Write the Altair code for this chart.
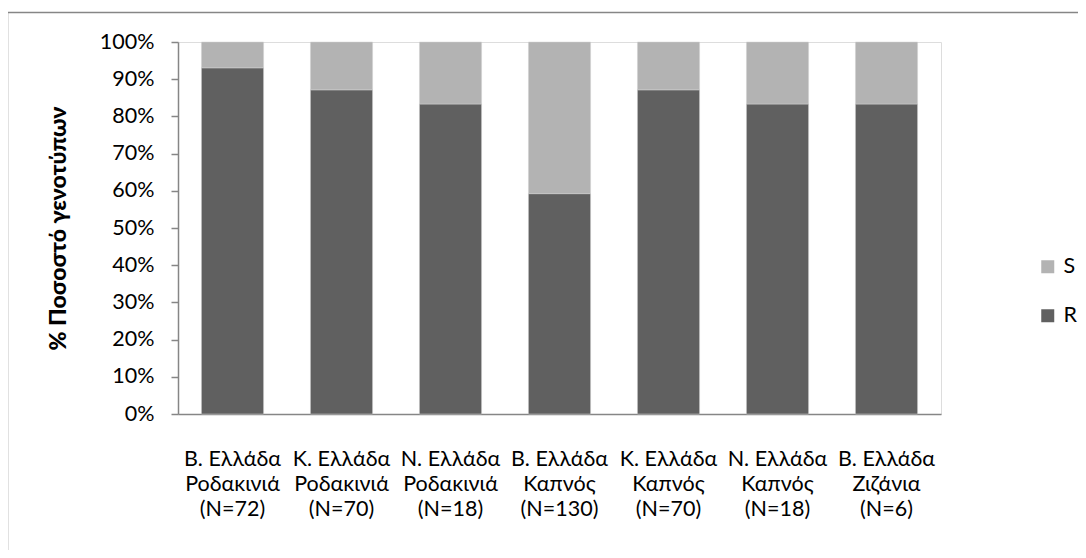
import altair as alt
import pandas as pd

categories = [
    "Β. Ελλάδα|Ροδακινιά|(N=72)",
    "Κ. Ελλάδα|Ροδακινιά|(N=70)",
    "Ν. Ελλάδα|Ροδακινιά|(N=18)",
    "Β. Ελλάδα|Καπνός|(N=130)",
    "Κ. Ελλάδα|Καπνός|(N=70)",
    "Ν. Ελλάδα|Καπνός|(N=18)",
    "Β. Ελλάδα|Ζιζάνια|(N=6)",
]
totals = [72, 70, 18, 130, 70, 18, 6]
r_counts = [67, 61, 15, 77, 61, 15, 5]
s_counts = [t - r for t, r in zip(totals, r_counts)]

rows = []
for c, r, s in zip(categories, r_counts, s_counts):
    rows.append({"cat": c, "type": "R", "n": r, "ord": 0})
    rows.append({"cat": c, "type": "S", "n": s, "ord": 1})
df = pd.DataFrame(rows)

FONT = "Lato"
FS = 21.5

bars = alt.Chart(df).mark_bar(stroke="#d0d0d0", strokeWidth=0.5).encode(
    x=alt.X("cat:N", sort=categories, title=None,
            scale=alt.Scale(paddingInner=0.43, paddingOuter=0.215),
            axis=alt.Axis(labelExpr="split(datum.label, '|')", labelAngle=0,
                          labelFont=FONT, labelFontSize=FS, labelLineHeight=25,
                          labelColor="black", labelPadding=34, ticks=False,
                          domainColor="#868686", domainWidth=1.5)),
    y=alt.Y("n:Q", stack="normalize", title="% Ποσοστό γενοτύπων",
            scale=alt.Scale(domain=[0, 1]),
            axis=alt.Axis(format=".0%", values=[i / 10 for i in range(11)],
                          grid=False, tickSize=7, tickColor="#868686", tickWidth=1.5,
                          domainColor="#868686", domainWidth=1.5,
                          labelFont=FONT, labelFontSize=FS, labelColor="black",
                          labelPadding=17, titleFont=FONT, titleFontSize=23,
                          titleFontWeight=900, titleColor="black", titlePadding=29)),
    color=alt.Color("type:N", scale=alt.Scale(domain=["S", "R"], range=["#b3b3b3", "#606060"]),
                    legend=alt.Legend(title=None, orient="none", legendX=859, legendY=214,
                                      symbolType="square", symbolSize=169, symbolStrokeWidth=0,
                                      labelFont=FONT, labelFontSize=FS, labelColor="black",
                                      labelOffset=5, rowPadding=26)),
    order=alt.Order("ord:Q", sort="ascending"),
)

frame_df = pd.DataFrame({"a": [0]})
left_line = alt.Chart(frame_df).mark_rule(color="#868686", strokeWidth=1.5).encode(
    x=alt.value(-170.5), y=alt.value(-29.5), y2=alt.value(700))
top_line = alt.Chart(frame_df).mark_rule(color="#868686", strokeWidth=1.5).encode(
    x=alt.value(-170.5), x2=alt.value(1000), y=alt.value(-29.5))

chart = alt.layer(bars, left_line, top_line).properties(
    width=763, height=372,
    autosize=alt.AutoSizeParams(type="none"),
    padding={"left": 170, "top": 34, "right": 137, "bottom": 136},
).configure_view(stroke=None).configure(background="white")

chart.save("out.html", embed_options={"renderer": "svg", "actions": False})
